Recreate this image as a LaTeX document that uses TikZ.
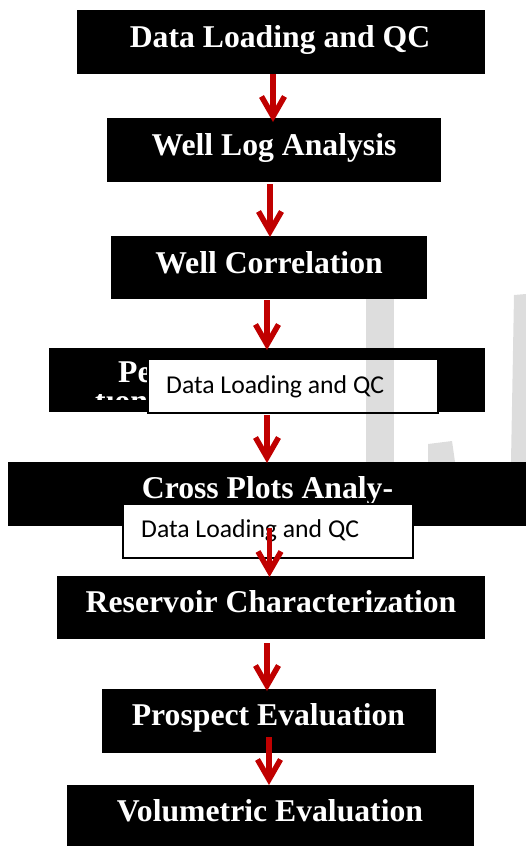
\documentclass[tikz,border=0pt]{standalone}
\usepackage{fontspec}
\setmainfont{Liberation Serif}
\newfontfamily\calib{Carlito}
\usetikzlibrary{arrows.meta}
\definecolor{arrred}{HTML}{C00000}
\definecolor{wmgray}{HTML}{DDDDDD}
\begin{document}
\begin{tikzpicture}[x=1pt,y=-1pt,
 blk/.style={fill=black, draw=none, inner sep=0pt, outer sep=0pt, minimum height=64pt},
 lbl/.style={text=white, font=\fontsize{31.7}{36}\selectfont\bfseries, anchor=base, inner sep=0pt},
 ovl/.style={fill=white, draw=black, line width=1.2pt, inner sep=0pt, outer sep=0pt, minimum width=290pt, minimum height=54pt},
 olbl/.style={font=\calib\fontsize{25.7}{30}\selectfont, anchor=base west, inner sep=0pt},
 arr/.style={draw=arrred, line width=5.5pt, -{Straight Barb[length=20pt,width=23pt]}}
]
\useasboundingbox (0,0) rectangle (526,846);
\clip (0,0) rectangle (526,846);
% black boxes
\node[blk, minimum width=408pt] (b1) at (281,42) {};
\node[blk, minimum width=334pt] (b2) at (274,150) {};
\node[blk, minimum width=316pt, minimum height=63pt] (b3) at (269,267.5) {};
\node[blk, minimum width=436pt] (b4) at (267,380) {};
\node[blk, minimum width=532pt] (b5) at (274,494) {};
\node[blk, minimum width=428pt, minimum height=63pt] (b6) at (271,607.5) {};
\node[blk, minimum width=334pt] (b7) at (269,721) {};
\node[blk, minimum width=407pt, minimum height=85pt] (b8) at (270.5,827.5) {};
% labels
\node[lbl] (t1) at (280,47) {Data Loading and QC};
\node[lbl] (t2) at (274,155) {Well Log Analysis};
\node[lbl] (t3) at (269,273) {Well Correlation};
\node[lbl, anchor=base west] (t4) at (118,382) {Pe};
\begin{scope}
\clip (90,394) rectangle (150,399);
\node[lbl, anchor=base west] (t4b) at (95,411) {tion};
\end{scope}
\node[lbl] (t5) at (267.5,498) {Cross Plots Analy-};
\node[lbl] (t6) at (271,612) {Reservoir Characterization};
\node[lbl] (t7) at (268.5,725) {Prospect Evaluation};
\node[lbl] (t8) at (270,821) {Volumetric Evaluation};
% overlay text boxes
\node[ovl] (o1) at (293,386) {};
\node[olbl] (ot1) at (166,393) {Data Loading and QC};
\node[ovl] (o2) at (268,531) {};
\node[olbl] (ot2) at (141,537) {Data Loading and QC};
% arrows
\draw[arr] ([xshift=-8pt]b1.south) -- ([xshift=-1pt,yshift=-4pt]b2.north);
\draw[arr] ([xshift=-4pt,yshift=-2pt]b2.south) -- ([xshift=1pt,yshift=-1pt]b3.north);
\draw[arr] ([xshift=-2pt,yshift=-1pt]b3.south) -- ([yshift=-2pt]b4.north);
\draw[arr] ([yshift=-3pt]b4.south) -- ([xshift=-7pt,yshift=-1pt]b5.north);
\draw[arr] ([xshift=-4.5pt,yshift=-2pt]b5.south) -- ([xshift=-1.5pt,yshift=-1pt]b6.north);
\draw[arr] ([xshift=-4pt,yshift=-4pt]b6.south) -- ([xshift=-2pt,yshift=-2pt]b7.north);
\draw[arr] ([yshift=16pt]b7.south) -- ([xshift=-1.5pt]b8.north);
% watermark
\begin{scope}[blend mode=multiply]
\fill[wmgray] (366,290) rectangle (394,462);
\fill[wmgray] (514,295) -- (526,294) -- (526,462) -- (511,462) -- cycle;
\fill[wmgray] (428,444) -- (452,441) -- (455,462) -- (428,462) -- cycle;
\end{scope}
\end{tikzpicture}
\end{document}
